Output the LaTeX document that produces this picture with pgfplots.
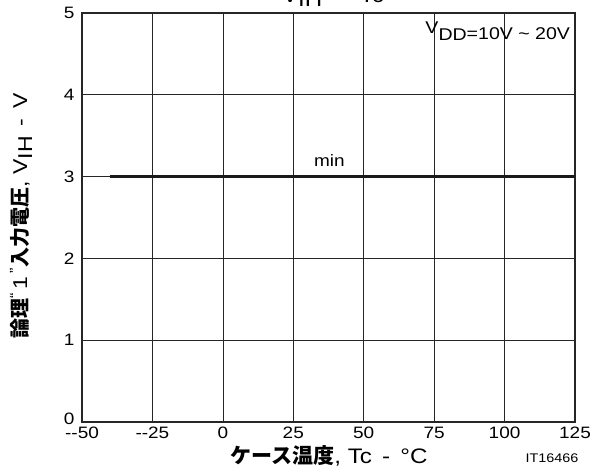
\documentclass[border=0pt]{standalone}
\usepackage{pgfplots}
\pgfplotsset{compat=1.18}
\usepackage{fontspec}
\setmainfont{Liberation Sans}[FakeStretch=1.15]
\newfontfamily\jp{Noto Sans CJK JP}
\begin{document}
\begin{tikzpicture}[x=1pt,y=1pt]
\path[use as bounding box] (0,0) rectangle (590,470);
\begin{axis}[
  at={(82pt,48pt)}, anchor=south west,
  scale only axis, width=493pt, height=409pt,
  xmin=-50, xmax=125, ymin=0, ymax=5,
  xtick={-50,-25,0,25,50,75,100,125},
  xticklabels={-{}-50,-{}-25,0,25,50,75,100,125},
  ytick={0,1,2,3,4,5},
  yticklabels={\raisebox{6pt}{0},1,2,3,4,5},
  major tick length=0pt,
  grid=major,
  grid style={black!85, line width=0.7pt},
  axis line style={black!85, line width=1.3pt},
  ticklabel style={font=\fontsize{16.5}{18}\selectfont},
  xticklabel style={yshift=-1pt, text height=12pt, text depth=0pt},
  yticklabel style={xshift=-4pt},
  /pgf/number format/assume math mode=true,
  clip=false,
]
\addplot[black!90, line width=2.4pt] coordinates {(-40,3) (125,3)};
\node[anchor=base, font=\fontsize{16.5}{18}\selectfont, inner sep=0pt] at (axis cs:37.8,3.12) {min};
\node[anchor=base east, font=\fontsize{17}{19}\selectfont, inner sep=0pt] at (axis cs:123.3,4.68) {\raisebox{6pt}{V}\raisebox{-1pt}{DD}=10V \char`\~\ 20V};
\end{axis}
\node[anchor=base, font=\fontsize{21}{25}\selectfont, inner sep=0pt] at (333,467) {V\raisebox{-4pt}{IH}\hspace{12pt}--\hspace{12pt}Tc};
\node[font=\fontsize{21}{25}\selectfont, inner sep=0pt] at (329,14) {{\jp\bfseries ケース温度}, Tc\, -\, °C};
\node[font=\fontsize{12.5}{14}\selectfont, inner sep=0pt] at (552,12) {IT16466};
\node[rotate=90, font=\fontsize{20}{23}\selectfont, inner sep=0pt] at (21,254) {{\jp\bfseries 論理}\textsuperscript{“}\,1\,\textsuperscript{”}{\jp\bfseries 入力電圧}, V\raisebox{-5pt}{IH}\ \,-\ \,V};
\end{tikzpicture}
\end{document}
